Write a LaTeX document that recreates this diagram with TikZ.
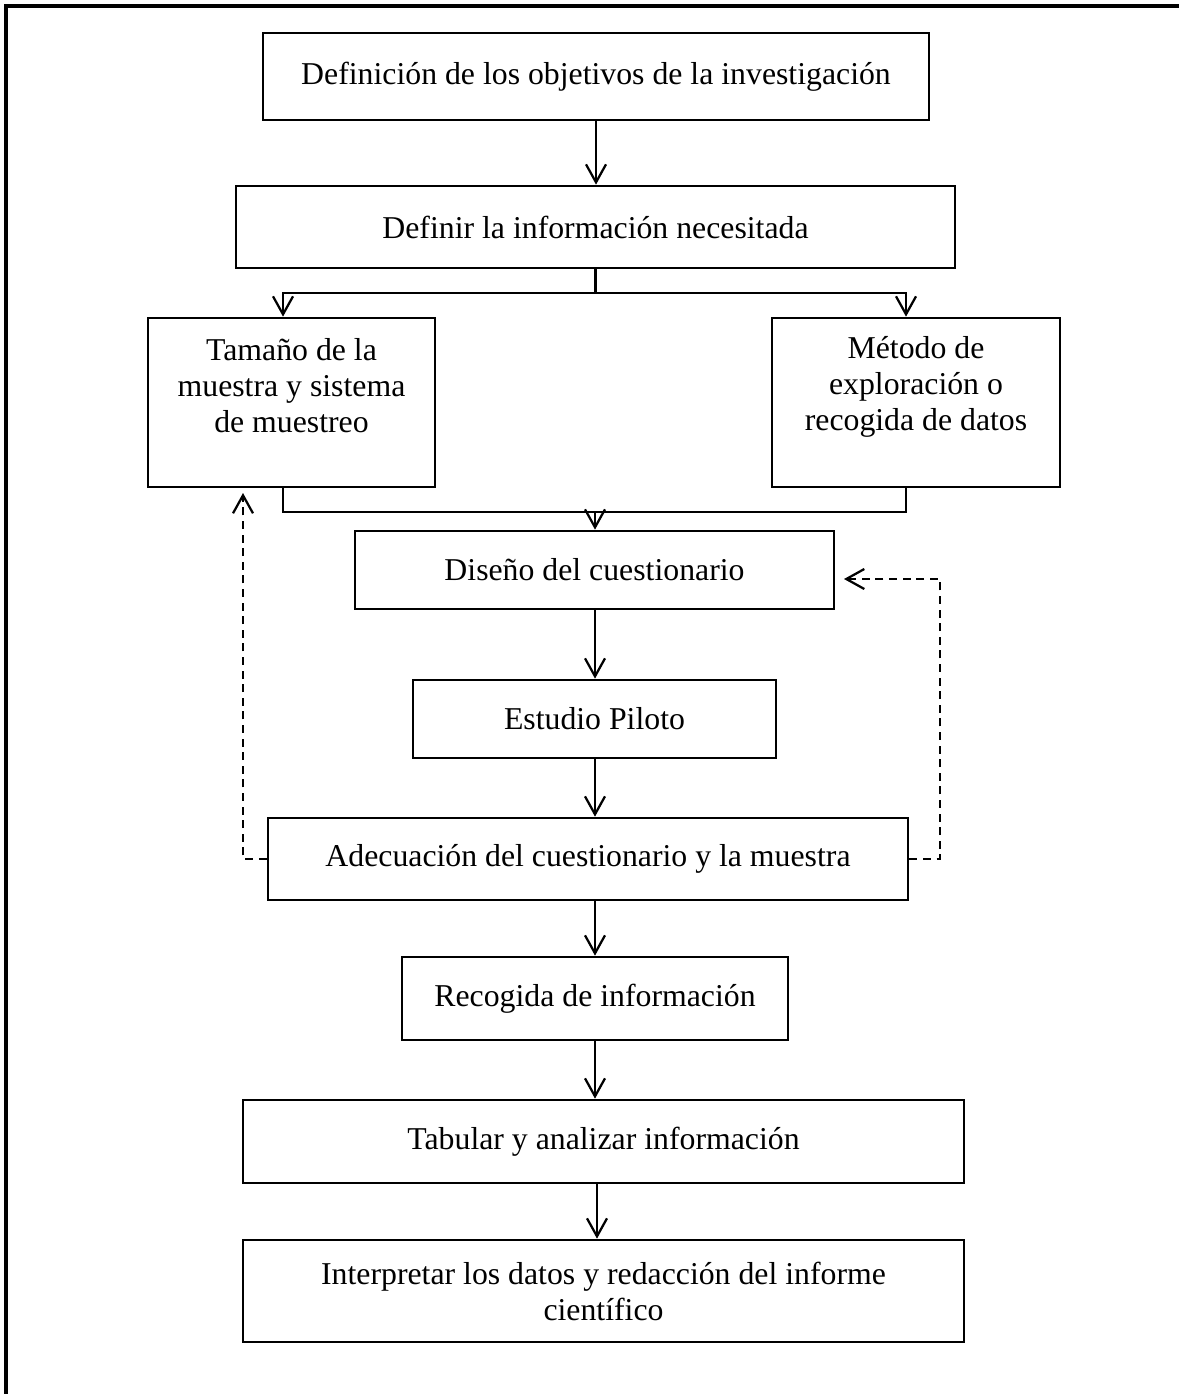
\documentclass[tikz,border=0pt]{standalone}
\usepackage{fontspec}
\setmainfont{Liberation Serif}
\usetikzlibrary{arrows.meta,positioning}
\tikzset{
  box/.style={draw, line width=1.9pt, align=center, inner sep=2pt},
  arr/.style={line width=1.6pt, -{Straight Barb[length=0.45cm,width=0.5cm,line width=1.6pt]}},
  dasharr/.style={arr, dash pattern=on 0.2cm off 0.14cm},
  frame/.style={line width=2.7pt}
}
\begin{document}
\begin{tikzpicture}[x=0.025cm,y=-0.025cm,font=\fontsize{22.6}{25.6}\selectfont]
\useasboundingbox (0,0) rectangle (1179,1394);
\draw[frame] (6,1394) -- (6,6) -- (1179,6);
% boxes
\node(obj) at (596,76.5) [box, minimum width=16.65cm, minimum height=2.175cm] {Definición de los objetivos de la investigación};
\node(info) at (595.5,227) [box, minimum width=17.975cm, minimum height=2.05cm] {Definir la información necesitada};
\node(tam) at (291.5,402.5) [box, minimum width=7.175cm, minimum height=4.225cm] {};
\node(tamtxt) at (291.5,386) [align=center] {Tamaño de la\\muestra y sistema\\de muestreo};
\node(met) at (916,402.5) [box, minimum width=7.2cm, minimum height=4.225cm] {};
\node(mettxt) at (916,387) [align=center] {Método de\\exploración o\\recogida de datos};
\node(dis) at (594.5,570) [box, minimum width=11.975cm, minimum height=1.95cm] {Diseño del cuestionario};
\node(pil) at (594.5,719) [box, minimum width=9.075cm, minimum height=1.95cm] {Estudio Piloto};
\node(ade) at (588,859) [box, minimum width=16cm, minimum height=2.05cm] {Adecuación del cuestionario y la muestra};
\node(rec) at (595,998.5) [box, minimum width=9.65cm, minimum height=2.075cm] {Recogida de información};
\node(tab) at (603.5,1141.5) [box, minimum width=18.025cm, minimum height=2.075cm] {Tabular y analizar información};
\node(int) at (603.5,1291) [box, minimum width=18.025cm, minimum height=2.55cm] {Interpretar los datos y redacción del informe\\científico};
% split and merge points
\coordinate(sl) at (283,293);
\coordinate(sr) at (906,293);
\coordinate(mg) at (595,512);
\coordinate(fl) at (243,493);
\coordinate(fr) at (940,579);
\coordinate(fe) at (844,579);
% arrows
\draw[arr] (obj.south) -- (obj.south |- info.north);
\draw[arr] (info.south) |- (sl) -- (sl |- tam.north);
\draw[arr] (info.south |- sl) -| (sr |- met.north);
\draw[line width=1.6pt] (sl |- tam.south) |- (sr |- mg) -- (sr |- met.south);
\draw[arr] (mg) -- (mg |- dis.north);
\draw[arr] (mg |- dis.south) -- (mg |- pil.north);
\draw[arr] (mg |- pil.south) -- (mg |- ade.north);
\draw[arr] (mg |- ade.south) -- (mg |- rec.north);
\draw[arr] (mg |- rec.south) -- (mg |- tab.north);
\draw[arr] ([xshift=0.05cm]mg |- tab.south) -- ([xshift=0.05cm]mg |- int.north);
% feedback
\draw[dasharr] (ade.west) -| (fl);
\draw[dasharr] (ade.east) -| (fr) -- (fe);
\end{tikzpicture}
\end{document}
